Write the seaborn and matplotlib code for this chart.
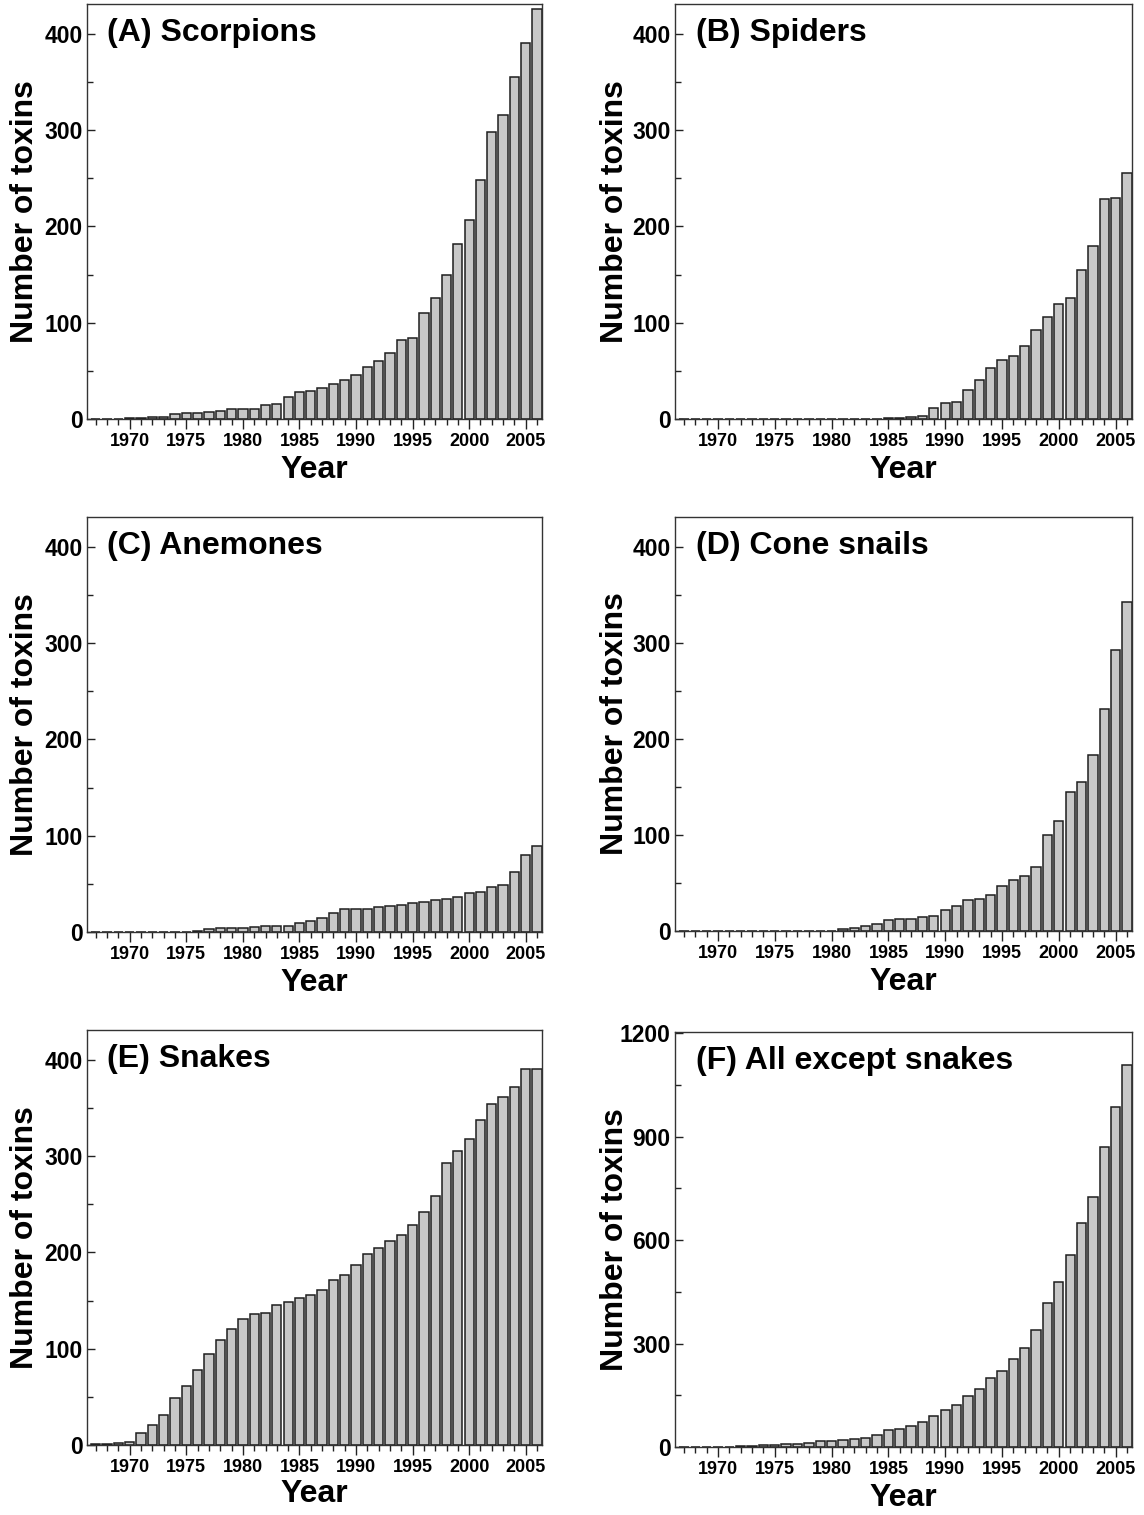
import numpy as np
import pandas as pd
import matplotlib
matplotlib.use("Agg")
import matplotlib.pyplot as plt
from matplotlib.ticker import MultipleLocator
import seaborn as sns

years = list(range(1967, 2007))

scorpions = [0, 0, 0, 1, 1, 2, 2, 5, 6, 6, 7, 8, 10, 10, 10, 15, 16, 23, 28, 29,
             32, 36, 40, 46, 54, 60, 69, 82, 84, 110, 126, 150, 182, 207, 248, 298,
             316, 355, 391, 426]
spiders = [0, 0, 0, 0, 0, 0, 0, 0, 0, 0, 0, 0, 0, 0, 0, 0, 0, 0, 1, 1,
           2, 3, 11, 17, 18, 30, 41, 53, 61, 65, 76, 92, 106, 119, 126, 155,
           180, 228, 230, 255]
anemones = [0, 0, 0, 0, 0, 0, 0, 0, 0, 1, 3, 4, 4, 4, 5, 6, 6, 6, 9, 11,
            15, 20, 24, 24, 24, 26, 27, 28, 30, 31, 33, 34, 36, 41, 42, 47,
            49, 62, 80, 89]
cone_snails = [0, 0, 0, 0, 0, 0, 0, 0, 0, 0, 0, 0, 0, 0, 2, 3, 5, 7, 11, 12,
               13, 15, 16, 22, 26, 32, 33, 37, 47, 53, 57, 67, 100, 115, 145, 155,
               183, 231, 293, 343]
snakes = [1, 1, 2, 3, 12, 21, 31, 49, 61, 78, 95, 109, 120, 131, 136, 137, 145, 149, 153, 156,
          161, 171, 177, 187, 198, 205, 212, 218, 229, 242, 259, 293, 305, 318, 338, 354,
          361, 372, 390, 391]
all_except = [0, 0, 0, 1, 1, 2, 2, 5, 5, 8, 10, 12, 16, 16, 19, 24, 27, 36, 48, 53,
              61, 73, 91, 108, 122, 148, 168, 199, 220, 255, 288, 340, 418, 477, 557, 650,
              725, 869, 985, 1107]

titles = ["(A) Scorpions", "(B) Spiders", "(C) Anemones", "(D) Cone snails",
          "(E) Snakes", "(F) All except snakes"]
series = [scorpions, spiders, anemones, cone_snails, snakes, all_except]
year_ticks = list(range(1970, 2006, 5))

sns.set_theme(style="ticks")
plt.rcParams['font.family'] = ['Liberation Sans', 'DejaVu Sans']
plt.rcParams['font.weight'] = 'bold'

W, H = 1144, 1515
fig = plt.figure(figsize=(W / 100, H / 100), dpi=100)

boxes = [(87, 4, 542, 419), (675, 4, 1132, 419),
         (87, 517, 542, 932), (675, 517, 1132, 931),
         (87, 1030, 542, 1445), (675, 1032, 1132, 1447)]
xlab_y = [-0.087, -0.087, -0.087, -0.087, -0.082, -0.087]

for i, (title, vals, (l, t, r, b)) in enumerate(zip(titles, series, boxes)):
    ax = fig.add_axes([l / W, 1 - b / H, (r - l) / W, (b - t) / H])
    df = pd.DataFrame({"Year": years, "Toxins": vals})
    sns.barplot(data=df, x="Year", y="Toxins", native_scale=True, width=0.82,
                color="#c8c8c8", saturation=1, edgecolor="#1e1e1e", linewidth=1.1,
                errorbar=None, ax=ax)
    ax.set_xlim(1966.22, 2006.44)
    if i == 5:
        ax.set_ylim(0, 1203)
        ax.yaxis.set_major_locator(MultipleLocator(300))
        ax.yaxis.set_minor_locator(MultipleLocator(150))
    else:
        ax.set_ylim(0, 431)
        ax.yaxis.set_major_locator(MultipleLocator(100))
        ax.yaxis.set_minor_locator(MultipleLocator(50))
    ax.set_xticks(year_ticks)
    ax.set_xticklabels([str(y) for y in year_ticks])
    ax.xaxis.set_minor_locator(MultipleLocator(1))
    ax.tick_params(axis="x", which="major", direction="out", length=7, width=1,
                   color="#222222", labelsize=13, pad=3, labelcolor="black")
    ax.tick_params(axis="x", which="minor", direction="out", length=4, width=1,
                   color="#222222")
    ax.tick_params(axis="y", which="major", direction="in", length=6, width=1,
                   color="#222222", labelsize=16.5, pad=3, labelcolor="black")
    ax.tick_params(axis="y", which="minor", direction="in", length=4, width=1,
                   color="#222222")
    for lab in ax.get_xticklabels() + ax.get_yticklabels():
        lab.set_fontweight("bold")
    for sp in ax.spines.values():
        sp.set_visible(True)
        sp.set_color("#333333")
        sp.set_linewidth(1.0)
    ax.set_xlabel("Year", fontsize=23, fontweight="bold", color="black")
    ax.set_ylabel("Number of toxins", fontsize=23, fontweight="bold", color="black")
    ax.xaxis.set_label_coords(0.5, xlab_y[i])
    ax.yaxis.set_label_coords(-0.103 if i % 2 == 0 else -0.098, 0.5)
    ax.text(0.045, 0.93, title, transform=ax.transAxes, ha="left", va="center",
            fontsize=23, fontweight="bold", color="black")

fig.savefig("out.png", dpi=100)
